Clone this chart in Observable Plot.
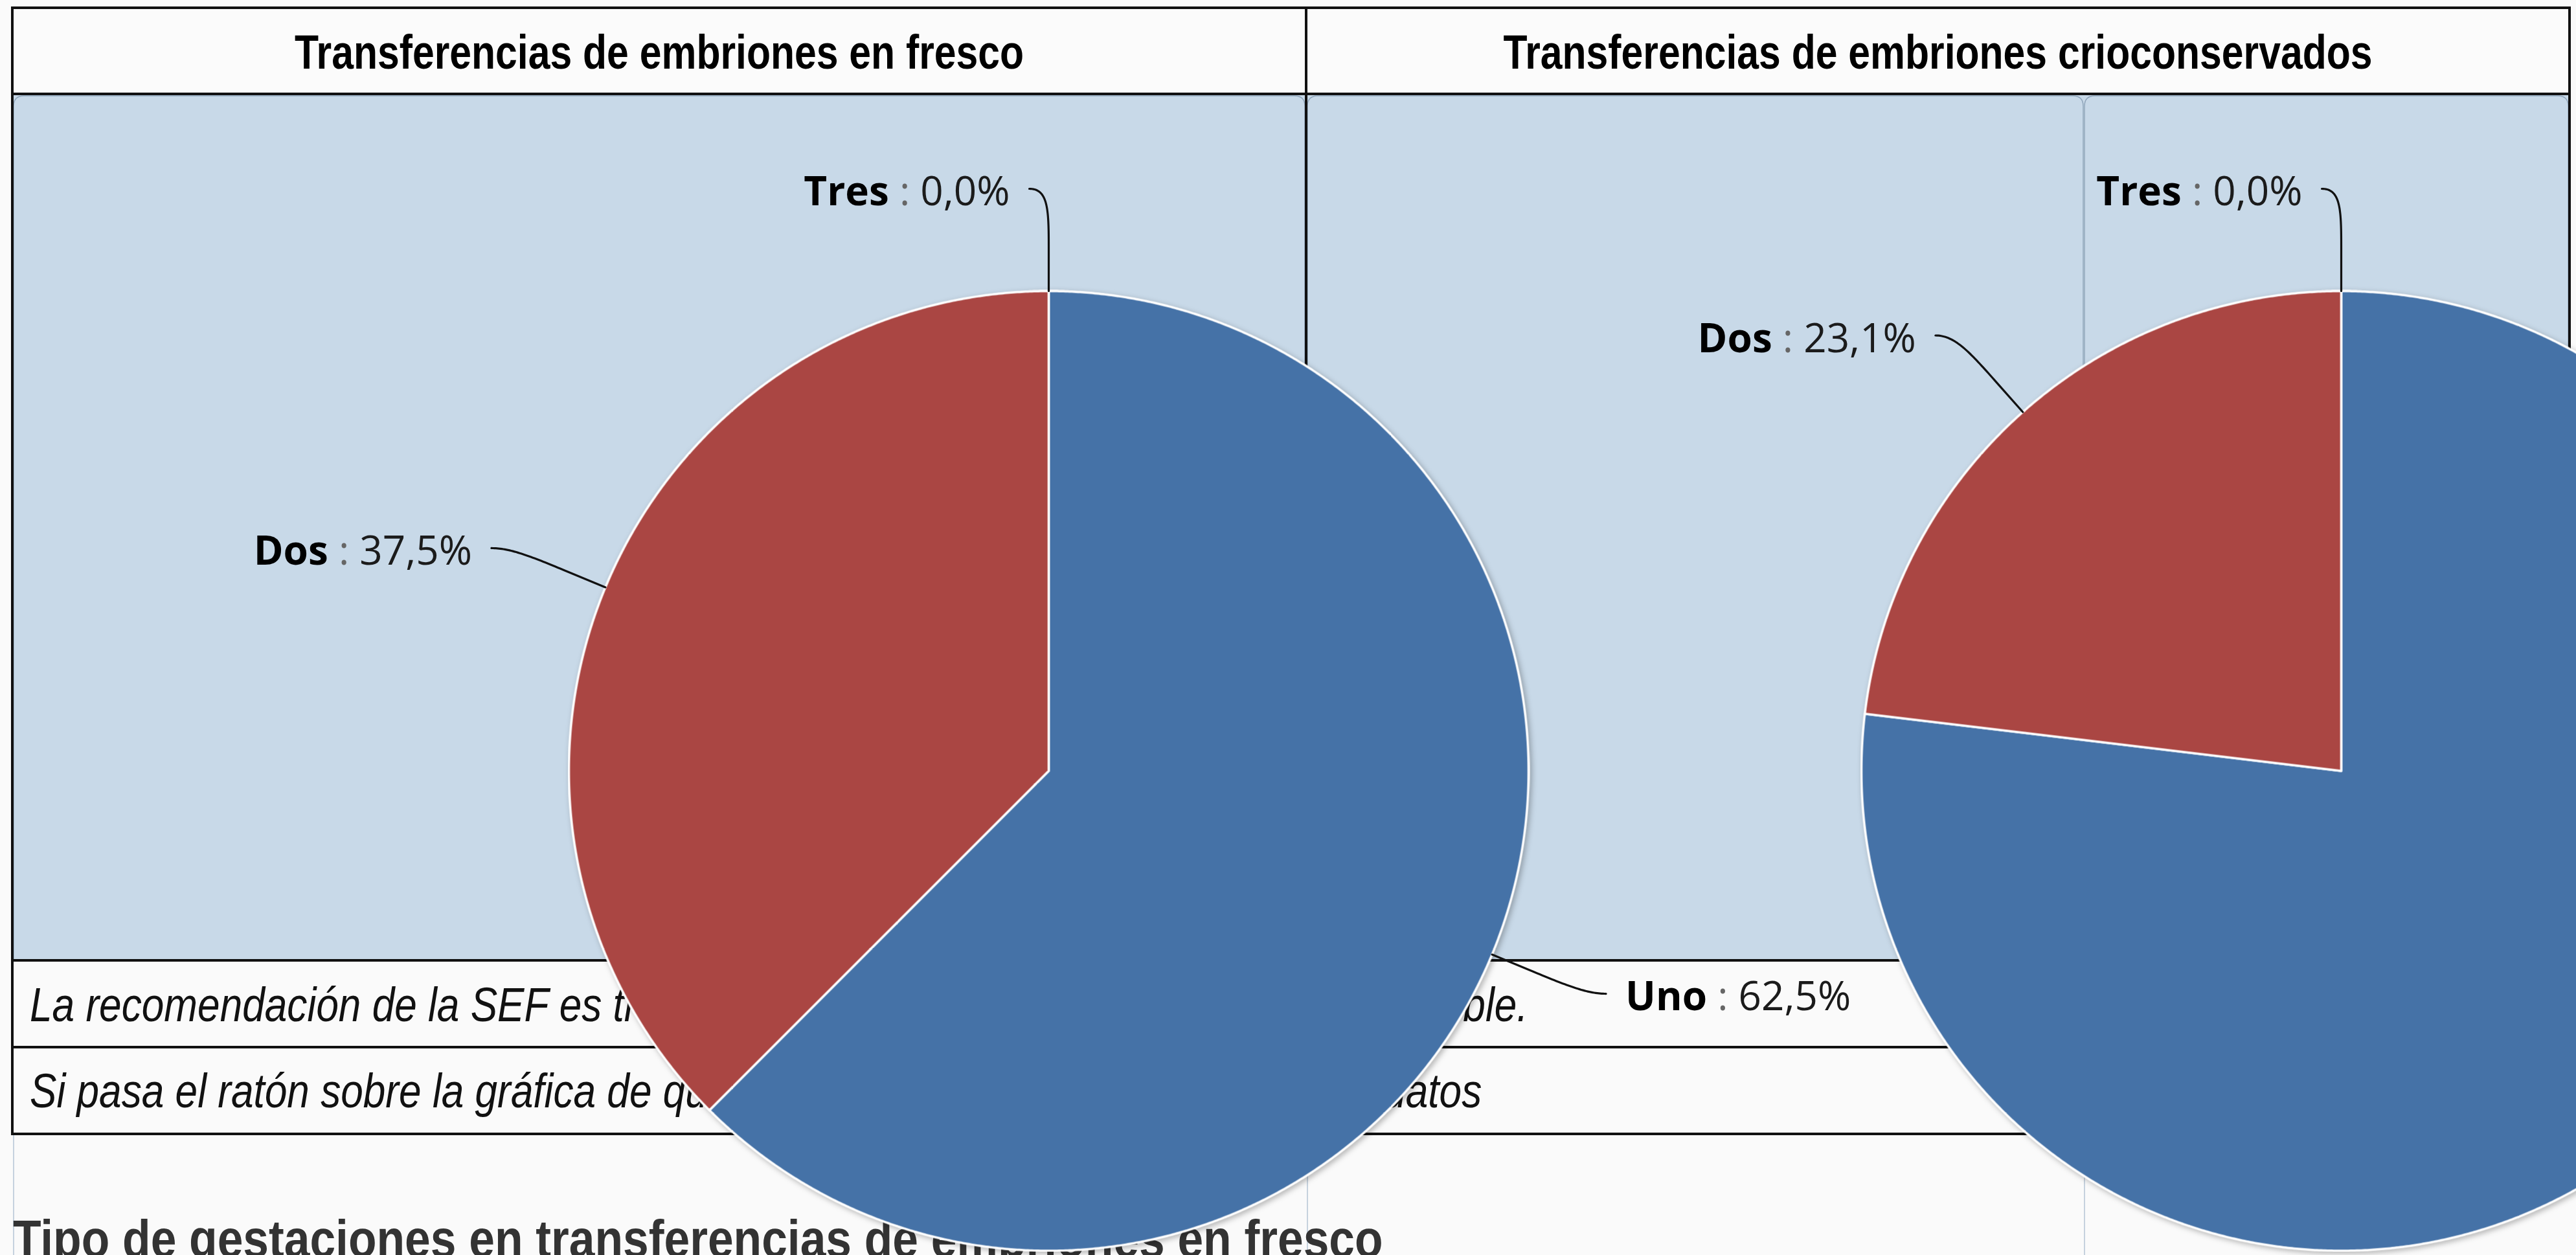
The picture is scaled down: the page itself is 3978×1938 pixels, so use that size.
<!DOCTYPE html>
<html lang="es">
<head>
<meta charset="utf-8">
<title>Transferencias de embriones</title>
<script src="https://cdn.jsdelivr.net/npm/d3@7"></script>
<script src="https://cdn.jsdelivr.net/npm/@observablehq/plot@0.6"></script>
<style>
  html, body { margin:0; padding:0; width:3978px; height:1938px; overflow:hidden; background:#fafafa; }
  #page { position:absolute; left:0; top:0; }
  #chart { position:absolute; left:0; top:0; }
</style>
</head>
<body>
<svg id="page" width="3978" height="1938"></svg>
<div id="chart"></div>
<script>
// ---------------- data ----------------
const panels = ["Transferencias de embriones en fresco", "Transferencias de embriones crioconservados"];
const categories = ["Uno", "Dos", "Tres"];
const frescoValues = [62.5, 37.5, 0.0];
const crioValues = [76.9, 23.1, 0.0];
const notes = [
  "La recomendación de la SEF es transferir un solo embrión siempre que sea posible.",
  "Si pasa el ratón sobre la gráfica de quesitos podrá consultar y ver todos los datos"
];
const sectionTitle = "Tipo de gestaciones en transferencias de embriones en fresco";
const sliceColors = ["#4572A7", "#AA4643", "#89A54E"];

// ---------------- page (table) ----------------
const page = d3.select("#page");
const INK = "#111";
const PANEL = "#c8d9e8";
const LEFT_X = 19, RIGHT_X = 3968, DIV_X = 2017;
const Y_TOP = 12, Y_HEAD = 145, Y_ROW1 = 1483, Y_ROW2 = 1617, Y_ROW3 = 1751;

page.append("rect").attr("x", LEFT_X).attr("y", Y_HEAD).attr("width", RIGHT_X - LEFT_X)
  .attr("height", Y_ROW1 - Y_HEAD).attr("fill", PANEL);
page.append("rect").attr("x", LEFT_X).attr("y", Y_TOP).attr("width", RIGHT_X - LEFT_X)
  .attr("height", Y_HEAD - Y_TOP).attr("fill", "#fbfbfb");

function topRounded(x0, y0, x1, y1, r) {
  return `M${x0},${y1}V${y0 + r}Q${x0},${y0} ${x0 + r},${y0}H${x1 - r}Q${x1},${y0} ${x1},${y0 + r}V${y1}`;
}
[[21, 2015], [2019, 3217], [3219, 3966]].forEach(([a, b]) => {
  page.append("path").attr("d", topRounded(a, Y_HEAD + 3, b, Y_ROW1, 16))
    .attr("fill", "none").attr("stroke", "#8fa5ba").attr("stroke-width", 1.4);
});
[21, 2019, 3219].forEach(x => {
  page.append("line").attr("x1", x).attr("x2", x).attr("y1", Y_ROW3).attr("y2", 1938)
    .attr("stroke", "#b4c4d4").attr("stroke-width", 1.5);
});

function hline(y) {
  page.append("line").attr("x1", LEFT_X - 2).attr("x2", RIGHT_X + 2).attr("y1", y).attr("y2", y)
    .attr("stroke", INK).attr("stroke-width", 4);
}
function vline(x, y1, y2) {
  page.append("line").attr("x1", x).attr("x2", x).attr("y1", y1).attr("y2", y2)
    .attr("stroke", INK).attr("stroke-width", 4);
}
[Y_TOP, Y_HEAD, Y_ROW1, Y_ROW2, Y_ROW3].forEach(hline);
vline(LEFT_X, Y_TOP, Y_ROW3);
vline(RIGHT_X, Y_TOP, Y_ROW3);
vline(DIV_X, Y_TOP, Y_ROW1);

function pageText(txt, x, y, o) {
  page.append("text")
    .attr("transform", `translate(${x},${y}) scale(${o.sx},1)`)
    .attr("text-anchor", o.anchor || "start")
    .attr("font-family", "'Liberation Sans', Arial, sans-serif")
    .attr("font-size", o.size)
    .attr("font-weight", o.weight || "normal")
    .attr("font-style", o.style || "normal")
    .attr("fill", o.color || "#000")
    .text(txt);
}
pageText(panels[0], (LEFT_X + DIV_X) / 2, 106, {size: 74, weight: "bold", anchor: "middle", sx: 0.82});
pageText(panels[1], (DIV_X + RIGHT_X) / 2, 106, {size: 74, weight: "bold", anchor: "middle", sx: 0.82});
pageText(notes[0], 46, 1577, {size: 74, style: "italic", sx: 0.84, color: "#111"});
pageText(notes[1], 46, 1710, {size: 74, style: "italic", sx: 0.84, color: "#111"});
pageText(sectionTitle, 20, 1941, {size: 82, weight: "bold", sx: 0.87, color: "#333"});

// ---------------- pies (Observable Plot) ----------------
const H = 1938;
const RADIUS = 741;          // pixels per unit (pie radius)
const FACET_W = 1996;        // width of each panel
const PAD = 19;              // left/right plot margin
const W = PAD * 2 + FACET_W * 2;
const CENTER_X = 1600;       // pie centre inside the panel
const CENTER_Y = 1190;       // pie centre from the top
const LABEL_DIST = 158 / RADIUS;   // label distance outside the pie
const CONNECTOR_OFF = 62 / RADIUS; // second break of the connector
const SHIFT = 30 / RADIUS;         // horizontal shift of the connector start
const GAP = 30 / RADIUS;           // gap between connector and label

const fmt = v => v.toFixed(1).replace(".", ",") + "%";
const series = [
  {panel: panels[0], values: frescoValues},
  {panel: panels[1], values: crioValues}
];

const sliceRows = [], leaderRows = [], labelRows = [];
for (const s of series) {
  const total = d3.sum(s.values);
  let a = 0;
  categories.forEach((cat, i) => {
    const v = s.values[i];
    const a0 = a, a1 = a + (v / total) * 2 * Math.PI;
    a = a1;
    const id = s.panel + "|" + cat;
    if (v > 0) {
      const n = Math.max(2, Math.ceil((a1 - a0) / (Math.PI / 720)));
      sliceRows.push({panel: s.panel, cat, id, x: 0, y: 0});
      for (let k = 0; k <= n; k++) {
        const t = a0 + (a1 - a0) * k / n;
        sliceRows.push({panel: s.panel, cat, id, x: Math.sin(t), y: Math.cos(t)});
      }
    }
    // label + soft connector
    const m = (a0 + a1) / 2;
    const side = m > Math.PI ? -1 : 1;
    const dx = Math.sin(m), dy = Math.cos(m);
    const E = [dx, dy];
    const P = [dx * (1 + LABEL_DIST), dy * (1 + LABEL_DIST)];
    const S = [P[0] + side * SHIFT, P[1]];
    const B = [dx * (1 + CONNECTOR_OFF), dy * (1 + CONNECTOR_OFF)];
    const C2 = [2 * B[0] - E[0], 2 * B[1] - E[1]];
    const steps = 40;
    for (let k = 0; k <= steps; k++) {
      const t = k / steps, u = 1 - t;
      const x = u*u*u*S[0] + 3*u*u*t*P[0] + 3*u*t*t*C2[0] + t*t*t*B[0];
      const y = u*u*u*S[1] + 3*u*u*t*P[1] + 3*u*t*t*C2[1] + t*t*t*B[1];
      leaderRows.push({panel: s.panel, id, x, y});
    }
    leaderRows.push({panel: s.panel, id, x: E[0], y: E[1]});
    labelRows.push({panel: s.panel, cat, side, x: S[0] + side * GAP, y: S[1], text: `${cat} : ${fmt(v)}`});
  });
}

const labelStyle = {fx: "panel", x: "x", y: "y", text: "text", dy: 6, fontSize: 62,
  fontFamily: "'Open Sans', 'Noto Sans', sans-serif", fill: "#1b1b1b"};

const chart = Plot.plot({
  width: W,
  height: H,
  marginTop: 0, marginBottom: 0, marginLeft: PAD, marginRight: PAD,
  style: {background: "transparent", maxWidth: "none", overflow: "visible"},
  fx: {domain: panels, padding: 0, axis: null},
  x: {domain: [-CENTER_X / RADIUS, (FACET_W - CENTER_X) / RADIUS], axis: null},
  y: {domain: [-(H - CENTER_Y) / RADIUS, CENTER_Y / RADIUS], axis: null},
  color: {domain: categories, range: sliceColors},
  marks: [
    Plot.line(sliceRows, {fx: "panel", x: "x", y: "y", z: "id", fill: "cat", stroke: "white",
      strokeWidth: 3.5, curve: "linear-closed"}),
    Plot.line(leaderRows, {fx: "panel", x: "x", y: "y", z: "id", stroke: "#111", strokeWidth: 3.2}),
    Plot.text(labelRows.filter(d => d.side < 0), {...labelStyle, textAnchor: "end"}),
    Plot.text(labelRows.filter(d => d.side > 0), {...labelStyle, textAnchor: "start"})
  ]
});

// pie shadow on the first line mark (the slices)
const lineGroups = chart.querySelectorAll(':scope > g[aria-label="line"]');
if (lineGroups.length) lineGroups[0].style.filter = "drop-shadow(3px 3px 4px rgba(0,0,0,0.28))";
// bold category name in the labels
const NS = "http://www.w3.org/2000/svg";
chart.querySelectorAll("text").forEach(t => {
  const parts = t.textContent.split(" : ");
  if (parts.length !== 2) return;
  t.textContent = "";
  const a = document.createElementNS(NS, "tspan");
  a.setAttribute("font-weight", "bold"); a.setAttribute("fill", "#000"); a.textContent = parts[0];
  const b = document.createElementNS(NS, "tspan");
  b.setAttribute("fill", "#666"); b.textContent = " : ";
  const c = document.createElementNS(NS, "tspan");
  c.textContent = parts[1];
  t.append(a, b, c);
});

document.getElementById("chart").append(chart);
</script>
</body>
</html>
